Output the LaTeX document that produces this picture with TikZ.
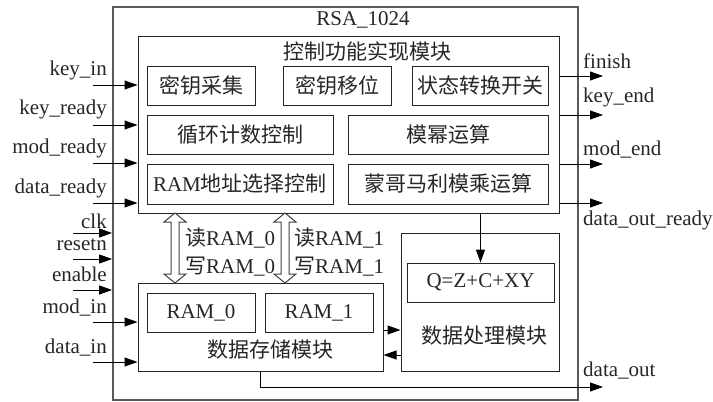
\documentclass[tikz,border=0pt]{standalone}
\usepackage{fontspec}
\setmainfont{Liberation Serif}
\newfontfamily\cjk{Noto Sans CJK SC}
\usetikzlibrary{arrows.meta,calc}
\begin{document}
\begin{tikzpicture}[x=1pt,y=-1pt,
  every node/.style={font=\fontsize{21}{25}\selectfont, text=black!85},
  blk/.style={draw=black!85, line width=1pt, inner sep=0pt},
  outerbox/.style={draw=black!65, line width=1.8pt, inner sep=0pt},
  arr/.style={draw=black, line width=1pt, -{Triangle[length=13pt,width=9pt]}},
  ln/.style={draw=black, line width=1pt},
  hollow/.style={draw=black!75, line width=1pt, fill=white},
  lbl/.style={inner sep=0pt, anchor=base east},
  rlbl/.style={inner sep=0pt, anchor=base west}]
\useasboundingbox (0,0) rectangle (713,402);

% boxes
\node[outerbox, minimum width=465, minimum height=393] (rsa) at (345.5,203.5) {};
\node (rsat) at (363,20) {RSA\_1024};

\node[blk, minimum width=421, minimum height=177] (ctrl) at (348.5,124.5) {};
\node (ctrlt) at (367,51) {\cjk 控制功能实现模块};

\node[blk, minimum width=108, minimum height=39] (m1) at (201,85.5) {\cjk 密钥采集};
\node[blk, minimum width=108, minimum height=39] (m2) at (337,85.5) {\cjk 密钥移位};
\node[blk, minimum width=136, minimum height=39] (m3) at (480,85.5) {\cjk 状态转换开关};
\node[blk, minimum width=186, minimum height=39] (m4) at (240,134.5) {\cjk 循环计数控制};
\node[blk, minimum width=200, minimum height=39] (m5) at (448,134.5) {\cjk 模幂运算};
\node[blk, minimum width=186, minimum height=40] (m6) at (240,184) {RAM{\cjk 地址选择控制}};
\node[blk, minimum width=200, minimum height=40] (m7) at (448,184) {\cjk 蒙哥马利模乘运算};

\node[blk, minimum width=245, minimum height=88] (stor) at (260.5,327) {};
\node[blk, minimum width=108, minimum height=39] (ram0) at (201,312.5) {RAM\_0};
\node[blk, minimum width=108, minimum height=39] (ram1) at (319,312.5) {RAM\_1};
\node (stort) at (270,350) {\cjk 数据存储模块};

\node[blk, minimum width=158, minimum height=138] (proc) at (480,302) {};
\node[blk, minimum width=147, minimum height=39] (q) at (480.5,282.5) {Q=Z+C+XY};
\node (proct) at (484,336) {\cjk 数据处理模块};

% control -> Q
\draw[arr] (q.north |- ctrl.south) -- (q.north);

% storage <-> processing
\draw[arr] (stor.east |- 0,330) -- (proc.west |- 0,330);
\draw[arr] (proc.west |- 0,355) -- (stor.east |- 0,355);

% data_out
\coordinate (dout) at (603,387);
\draw[ln] (stor.south -| 260,0) -- (260,387);
\draw[arr] (260,387) -- (dout);
\node[rlbl] at (583,376) {data\_out};

% hollow double arrows
\foreach \cx in {175,285}{
  \draw[hollow] (\cx,213) -- (\cx+11,222) -- (\cx+4,222) -- (\cx+4,274) -- (\cx+11,274)
    -- (\cx,283) -- (\cx-11,274) -- (\cx-4,274) -- (\cx-4,222) -- (\cx-11,222) -- cycle;
}
\node[anchor=west, inner sep=0pt] at (185,238) {{\cjk 读}RAM\_0};
\node[anchor=west, inner sep=0pt] at (185,267) {{\cjk 写}RAM\_0};
\node[anchor=west, inner sep=0pt] at (294,238) {{\cjk 读}RAM\_1};
\node[anchor=west, inner sep=0pt] at (294,267) {{\cjk 写}RAM\_1};

% inputs to control
\coordinate (i1) at (93,85);
\coordinate (i2) at (93,125);
\coordinate (i3) at (93,163);
\coordinate (i4) at (93,203);
\draw[arr] (i1) -- (i1 -| ctrl.west);
\draw[arr] (i2) -- (i2 -| ctrl.west);
\draw[arr] (i3) -- (i3 -| ctrl.west);
\draw[arr] (i4) -- (i4 -| ctrl.west);
\node[lbl] at (107,75) {key\_in};
\node[lbl] at (107,114) {key\_ready};
\node[lbl] at (107,153) {mod\_ready};
\node[lbl] at (107,193) {data\_ready};

% inputs to rsa
\coordinate (c1) at (73,233);
\coordinate (c2) at (73,259);
\coordinate (c3) at (73,290);
\draw[arr] (c1) -- (c1 -| rsa.west);
\draw[arr] (c2) -- (c2 -| rsa.west);
\draw[arr] (c3) -- (c3 -| rsa.west);
\node[lbl] at (107,228) {clk};
\node[lbl] at (107,250) {resetn};
\node[lbl] at (107,281) {enable};

% inputs to storage
\coordinate (s1) at (93,322);
\coordinate (s2) at (93,362);
\draw[arr] (s1) -- (s1 -| stor.west);
\draw[arr] (s2) -- (s2 -| stor.west);
\node[lbl] at (107,313) {mod\_in};
\node[lbl] at (107,353) {data\_in};

% outputs
\coordinate (o1) at (603,76);
\coordinate (o2) at (603,115);
\coordinate (o3) at (603,164);
\coordinate (o4) at (603,203);
\draw[arr] (o1 -| ctrl.east) -- (o1);
\draw[arr] (o2 -| ctrl.east) -- (o2);
\draw[arr] (o3 -| ctrl.east) -- (o3);
\draw[arr] (o4 -| ctrl.east) -- (o4);
\node[rlbl] at (583,68) {finish};
\node[rlbl] at (583,102) {key\_end};
\node[rlbl] at (583,155) {mod\_end};
\node[rlbl] at (583,225) {data\_out\_ready};
\end{tikzpicture}
\end{document}
